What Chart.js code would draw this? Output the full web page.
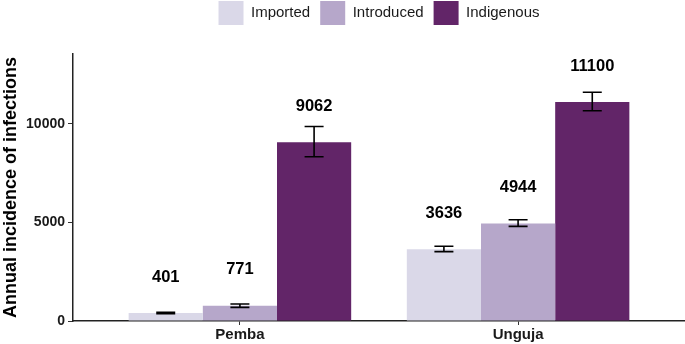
<!DOCTYPE html>
<html>
<head>
<meta charset="utf-8">
<script src="https://cdn.jsdelivr.net/npm/chart.js@4"></script>
<style>
  html, body { margin: 0; padding: 0; background: #fff; }
  #wrap { width: 685px; height: 344px; }
</style>
</head>
<body>
<div id="wrap"><canvas id="incidenceChart" width="685" height="344"></canvas></div>
<script>
// islands (x positions 1 and 2)
const islands = ['Pemba', 'Unguja'];
const islandPos = [1, 2];
const yTicks = [0, 5000, 10000];

// annual incidence by origin
const imported = [401, 3636];
const introduced = [771, 4944];
const indigenous = [9062, 11100];

// error bar ranges
const importedLow = [365, 3520];
const importedHigh = [437, 3790];
const introducedLow = [690, 4800];
const introducedHigh = [860, 5136];
const indigenousLow = [8330, 10660];
const indigenousHigh = [9860, 11600];

const FONT = '"Liberation Sans", Arial, Helvetica, sans-serif';
const INK = '#1a1a1a';

function toPoints(vals) {
    return vals.map((v, i) => ({ x: islandPos[i], y: v }));
}

// extra room between legend and plot
const legendGap = {
    id: 'legendGap',
    beforeInit(chart) {
        const fit = chart.legend.fit;
        chart.legend.fit = function () {
            fit.call(this);
            this.height += 19;
        };
    }
};

// error bars + value labels
const errorBarPlugin = {
    id: 'errorBars',
    afterDatasetsDraw(chart) {
        const ctx = chart.ctx;
        const yScale = chart.scales.y;
        chart.data.datasets.forEach((ds, di) => {
            const meta = chart.getDatasetMeta(di);
            meta.data.forEach((bar, i) => {
                const lo = yScale.getPixelForValue(ds.errLow[i]);
                const hi = yScale.getPixelForValue(ds.errHigh[i]);
                const half = 9.5;
                ctx.save();
                ctx.strokeStyle = '#000';
                ctx.lineWidth = 1.6;
                ctx.beginPath();
                ctx.moveTo(bar.x, lo); ctx.lineTo(bar.x, hi);
                ctx.moveTo(bar.x - half, lo); ctx.lineTo(bar.x + half, lo);
                ctx.moveTo(bar.x - half, hi); ctx.lineTo(bar.x + half, hi);
                ctx.stroke();
                // value label
                ctx.fillStyle = '#000';
                ctx.font = 'bold 16.5px ' + FONT;
                ctx.textAlign = 'center';
                ctx.textBaseline = 'middle';
                ctx.fillText(String(ds.data[i].y), bar.x, bar.y - 36);
                ctx.restore();
            });
        });
    }
};

const chart = new Chart(document.getElementById('incidenceChart'), {
    type: 'bar',
    data: {
        datasets: [{
            label: 'Imported',
            data: toPoints(imported),
            errLow: importedLow,
            errHigh: importedHigh,
            backgroundColor: '#dad8e8'
        }, {
            label: 'Introduced',
            data: toPoints(introduced),
            errLow: introducedLow,
            errHigh: introducedHigh,
            backgroundColor: '#b6a7ca'
        }, {
            label: 'Indigenous',
            data: toPoints(indigenous),
            errLow: indigenousLow,
            errHigh: indigenousHigh,
            backgroundColor: '#622568'
        }]
    },
    options: {
        responsive: false,
        animation: false,
        categoryPercentage: 0.8,
        barPercentage: 1.0,
        layout: { padding: { top: -9, right: 0, bottom: 0, left: 0 } },
        plugins: {
            tooltip: { enabled: false },
            legend: {
                position: 'top',
                fullSize: false,
                labels: {
                    boxWidth: 25,
                    boxHeight: 24,
                    padding: 10,
                    color: INK,
                    font: { family: FONT, size: 15 }
                }
            }
        },
        scales: {
            x: {
                type: 'linear',
                min: 0.4,
                max: 2.6,
                offset: false,
                afterBuildTicks: axis => { axis.ticks = islandPos.map(v => ({ value: v })); },
                afterFit: axis => { axis.height = 23; },
                border: { display: true, color: '#222', width: 1.5 },
                grid: { display: true, offset: false, drawOnChartArea: false, drawTicks: true, tickLength: 4, color: '#333' },
                ticks: {
                    padding: 1,
                    color: INK,
                    font: { family: FONT, size: 15, weight: 'bold' },
                    callback: v => islands[islandPos.indexOf(v)] || ''
                }
            },
            y: {
                min: 0,
                max: 13540,
                afterBuildTicks: axis => { axis.ticks = yTicks.map(v => ({ value: v })); },
                afterFit: axis => { axis.width = 73; },
                border: { display: true, color: '#222', width: 1.5 },
                grid: { display: true, drawOnChartArea: false, drawTicks: true, tickLength: 5, color: '#333' },
                ticks: {
                    padding: 3,
                    color: INK,
                    font: { family: FONT, size: 14, weight: 'bold' },
                    callback: v => String(v)
                },
                title: {
                    display: true,
                    text: 'Annual incidence of infections',
                    color: '#000',
                    padding: 0,
                    font: { family: FONT, size: 18, weight: 'bold' }
                }
            }
        }
    },
    plugins: [legendGap, errorBarPlugin]
});
</script>
</body>
</html>
